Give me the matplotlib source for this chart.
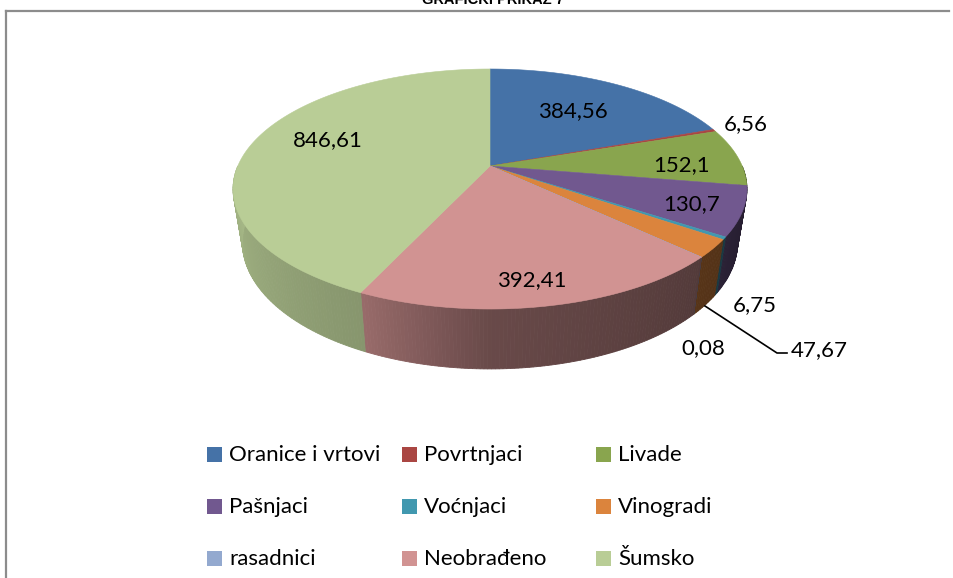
import numpy as np
import matplotlib
matplotlib.use('Agg')
import matplotlib.pyplot as plt
from matplotlib.patches import Polygon, Rectangle

# Data
categories = ['Oranice i vrtovi', 'Povrtnjaci', 'Livade', 'Pašnjaci', 'Voćnjaci',
              'Vinogradi', 'rasadnici', 'Neobrađeno', 'Šumsko']
values = [384.56, 6.56, 152.1, 130.7, 6.75, 47.67, 0.08, 392.41, 846.61]
value_labels = ['384,56', '6,56', '152,1', '130,7', '6,75', '47,67', '0,08', '392,41', '846,61']

colors = ['#4572A7', '#AA4643', '#89A54E', '#71588F', '#4198AF',
          '#DB843D', '#93A9CF', '#D19392', '#B9CD96']

# Where each value label sits, in picture pixels
label_pos = [(573, 111), (746, 124), (682, 165), (692, 204), (755, 305),
             (819, 350), (703, 348), (532, 280), (328, 140)]

plt.rcParams['font.family'] = ['Lato', 'DejaVu Sans']

fig = plt.figure(figsize=(9.54, 5.78), dpi=100)
ax = fig.add_axes([0, 0, 1, 1])
ax.set_xlim(0, 954)
ax.set_ylim(578, 0)
ax.axis('off')


# Perspective view of a unit disc: angle runs clockwise from the top
def project(angle, a, b, y0, k=0.1917):
    u = np.sin(angle)
    v = np.cos(angle)
    w = 1 + k * v
    return 490 + a * u / w, y0 - b * v / w


def top_rim(angle):
    return project(angle, 252.2, 115.6, 166)


def bottom_rim(angle):
    return project(angle, 243, 122, 218)


def shade(angle):
    # darkening of the side wall, it gets darker going right along the front
    deg = np.degrees(angle)
    return np.interp(deg, [90, 125, 135, 180, 205, 270], [0.30, 0.38, 0.40, 0.50, 0.73, 0.90])


# Chart frame
ax.plot([6, 6], [578, 11], color='#8c8c8c', lw=1.6)
ax.plot([6, 949], [11, 11], color='#8c8c8c', lw=1.6)

edges = np.concatenate(([0], np.cumsum(values))) / np.sum(values) * 2 * np.pi

# Side wall, only the front part of the pie shows it
for i, color in enumerate(colors):
    start = max(edges[i], np.pi / 2)
    end = min(edges[i + 1], 3 * np.pi / 2)
    if end <= start:
        continue
    steps = np.linspace(start, end, max(2, int((end - start) * 80)))
    rgb = np.array(matplotlib.colors.to_rgb(color))
    for t0, t1 in zip(steps[:-1], steps[1:]):
        x0, y0 = top_rim(t0)
        x1, y1 = top_rim(t1)
        x2, y2 = bottom_rim(t1)
        x3, y3 = bottom_rim(t0)
        c = rgb * shade((t0 + t1) / 2)
        ax.add_patch(Polygon([(x0, y0), (x1, y1), (x2, y2), (x3, y3)],
                             facecolor=c, edgecolor=c, lw=0.6))

# Top face
for i, color in enumerate(colors):
    t = np.linspace(edges[i], edges[i + 1], max(2, int((edges[i + 1] - edges[i]) * 80)))
    xs, ys = top_rim(t)
    pts = [(490, 166)] + list(zip(xs, ys))
    ax.add_patch(Polygon(pts, facecolor=color, edgecolor=color, lw=0.4))

# Value labels
for text, (x, y) in zip(value_labels, label_pos):
    ax.text(x, y, text, fontsize=16, color='black', ha='center', va='center')

# Leader line for the Vinogradi label
ax.plot([705, 777, 787], [306, 353, 353], color='black', lw=1.2)

# Legend
leg_x = [207, 402, 596]
leg_y = [455, 507, 559]
for i, name in enumerate(categories):
    x = leg_x[i % 3]
    y = leg_y[i // 3]
    ax.add_patch(Rectangle((x, y - 8), 15, 15, facecolor=colors[i], edgecolor='none'))
    ax.text(x + 22, y, name, fontsize=16, color='black', ha='left', va='center')

# Title is cut by the top of the picture
ax.text(493, 4, 'GRAFIČKI PRIKAZ 7', family='Liberation Sans', fontweight='bold',
        fontsize=10.5, color='black', ha='center', va='baseline')

fig.savefig('out.png', dpi=100)
